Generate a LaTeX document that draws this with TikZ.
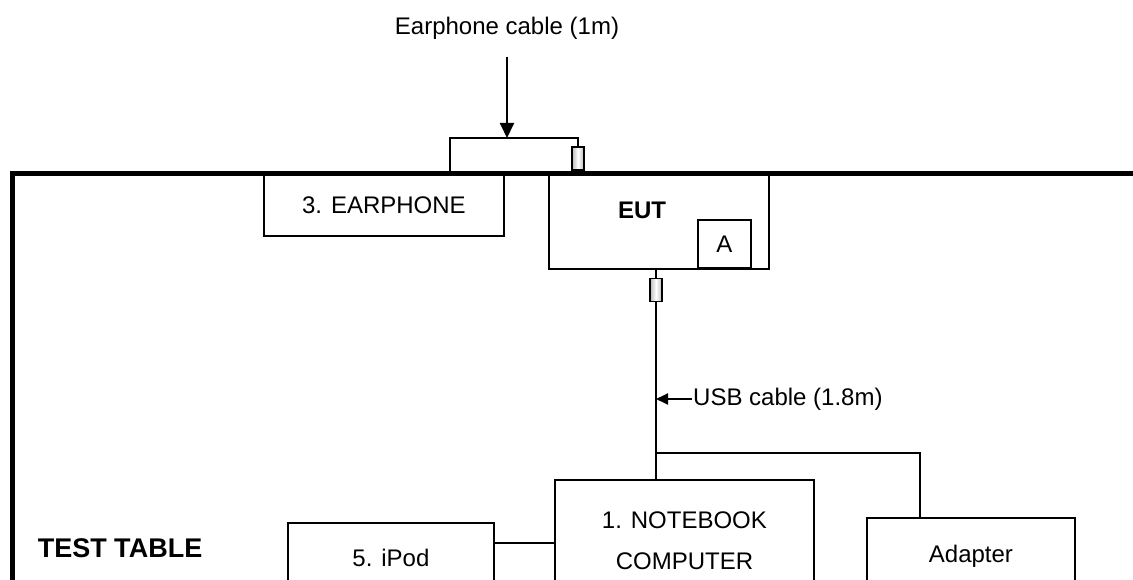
\documentclass[tikz,border=0pt]{standalone}
\usepackage{fontspec}
\setmainfont{Liberation Sans}
\usetikzlibrary{arrows.meta,positioning}

\begin{document}
\begin{tikzpicture}[
    x=1pt, y=-1pt,
    font=\fontsize{24}{28}\selectfont,
    box/.style={draw, line width=1.9pt, inner sep=0pt, align=center,
                anchor=north west},
    plug/.style={draw, line width=1.4pt, left color=gray!55,
                 right color=gray!55, middle color=white,
                 minimum width=12pt, minimum height=23pt, inner sep=0pt},
    wire/.style={line width=1.9pt},
    arr/.style={-{Triangle[length=15pt,width=14pt]}, line width=1.9pt},
    smallarr/.style={-{Triangle[length=12pt,width=11pt]}, line width=1.9pt}
  ]
  \useasboundingbox (0,0) rectangle (1133,580);
  \clip (0,0) rectangle (1133,580);

  % equipment on the table
  \node (phone)   [box, minimum width=240pt, minimum height=61pt] at (263,174) {3. EARPHONE};
  \node (eut)     [box, minimum width=220pt, minimum height=94pt] at (548,174) {};
  \node (eutname) [font=\fontsize{24}{28}\selectfont\bfseries] at (642,210) {EUT};
  \node (porta)   [box, minimum width=53pt, minimum height=48pt] at (697,219) {A};
  \node (nb)      [box, minimum width=259pt, minimum height=121pt,
                   font=\fontsize{24}{41}\selectfont] at (554,479) {1. NOTEBOOK\\COMPUTER};
  \node (ipod)    [box, minimum width=206pt, minimum height=70pt] at (287,522) {5. iPod};
  \node (adapter) [box, minimum width=208pt, minimum height=76pt] at (866,517) {Adapter};
  \node (table)   [font=\fontsize{27}{32}\selectfont\bfseries] at (120,548) {TEST TABLE};

  % plugs
  \node (eplug) [plug] at (578,158.5) {};
  \node (uplug) [plug] at (656,290) {};

  % labels
  \node (elabel) at (507,28) {Earphone cable (1m)};
  \node (ulabel) [anchor=west, inner sep=1pt] at (692,399) {USB cable (1.8m)};

  \coordinate (ejack) at (450,174);
  \coordinate (ebend) at (578,138);
  \coordinate (etip)  at (507,138);
  \coordinate (etail) at (507,57);
  \coordinate (hub)   at (656,453);
  \coordinate (abend) at (920,453);
  \coordinate (ilink) at (493,543);

  % cables
  \draw[wire] (ejack) |- (ebend) -- (eplug.north);
  \draw[arr] (etail) -- (etip);
  \draw[wire] (uplug |- eut.south) -- (uplug.north);
  \draw[wire] (uplug.south) -- (uplug |- nb.north);
  \draw[smallarr] (ulabel.west) -- (ulabel.west -| uplug);
  \draw[wire] (hub) -- (abend) -- (abend |- adapter.north);
  \draw[wire] (ilink) -- (ilink -| nb.west);

  % table edge
  \draw[line width=5pt] (12,600) -- (12,174) -- (1150,174);
\end{tikzpicture}
\end{document}
